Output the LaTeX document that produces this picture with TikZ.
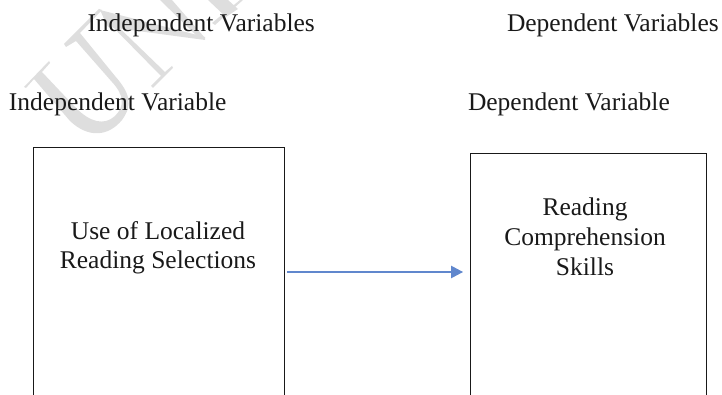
\documentclass[tikz,border=0pt]{standalone}
\usepackage{fontspec}
\setmainfont{Liberation Serif}
\usetikzlibrary{arrows.meta}
\definecolor{arrowblue}{HTML}{4472C4}
\tikzset{
  lbl/.style={anchor=base west,inner sep=0pt,outer sep=0pt,font=\fontsize{25.5}{30}\selectfont,text=black!90},
  boxtxt/.style={anchor=base,inner sep=0pt,outer sep=0pt,font=\fontsize{25.5}{30}\selectfont,text=black!90},
  vbox/.style={draw=black!90,line width=1pt,rectangle,inner sep=0pt,outer sep=0pt},
  wm/.style={fill=black!13,draw=none},
  conn/.style={draw=arrowblue!85,line width=1.1pt,-{Triangle[length=12pt,width=12.5pt]},shorten <=3pt,shorten >=7pt}
}
\begin{document}
\begin{tikzpicture}[x=1pt,y=-1pt]
\useasboundingbox (0,0) rectangle (722,395);
\clip (0,0) rectangle (722,395);
% watermark letters
% U
\fill[wm] (24,87) -- (49,61) -- (50,63) -- (42,72) -- (76,108)
  .. controls (90,122) and (104,126) .. (115,116)
  .. controls (125,106) and (124,95) .. (112,82)
  -- (76,41) -- (66,47) -- (64,44) -- (99,9) -- (102,10) -- (80,33)
  -- (115,76) .. controls (130,93) and (133,105) .. (122,120)
  .. controls (108,137) and (88,138) .. (70,121)
  -- (34,79) -- (26,88) -- cycle;
% N: left stem with foot serif
\fill[wm] (103,17) -- (106,15) -- (165,72) -- (172,66) -- (173,68) -- (153,88) -- (151,86) -- (161,76) -- cycle;
% N: diagonal
\fill[wm] (100,10) -- (205,37) -- (205,40) -- (108,27) -- cycle;
% N: right stem
\fill[wm] (160,0) -- (172,0) -- (205,38) -- (198,37) -- cycle;
% I
\fill[wm] (212,23) -- (240,0) -- (243,0) -- (215,25) -- cycle;
\fill[wm] (208,0) -- (228,0) -- (238,9) -- (226,17) -- cycle;
% boxes
\node[vbox,minimum width=251pt,minimum height=248pt] (a) at (158.5,272) {};
\node[vbox,minimum width=236pt,minimum height=244pt] (b) at (588,276) {};
\draw[conn] (a.east) -- (a.east -| b.west);
% labels
\node[lbl] (t1) at (87.5,32) {Independent Variables};
\node[lbl] (t2) at (507,32) {Dependent Variables};
\node[lbl] (t3) at (9,111) {Independent Variable};
\node[lbl] (t4) at (468,111) {Dependent Variable};
\node[boxtxt] (a1) at (158,239.5) {Use of Localized};
\node[boxtxt] (a2) at (158,268.5) {Reading Selections};
\node[boxtxt] (b1) at (585,215) {Reading};
\node[boxtxt] (b2) at (585,245) {Comprehension};
\node[boxtxt] (b3) at (585,275) {Skills};
\end{tikzpicture}
\end{document}
